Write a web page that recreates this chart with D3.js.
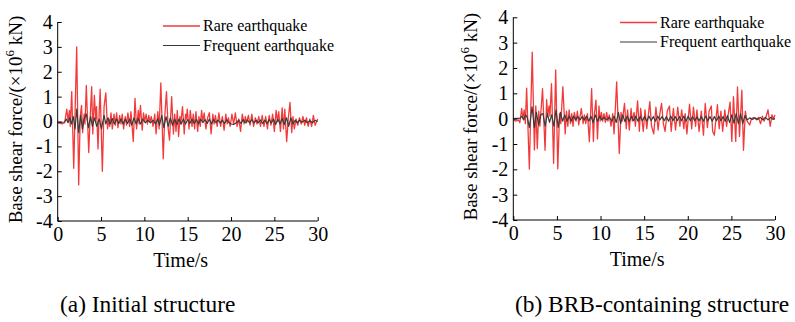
<!DOCTYPE html>
<html>
<head>
<meta charset="utf-8">
<script src="https://cdn.jsdelivr.net/npm/d3@7"></script>
<style>
  body { margin: 0; background: #fff; }
  svg, svg text { font-family: "Liberation Serif", "Times New Roman", "DejaVu Serif", serif; }
  svg text { fill: #000; }
  .axis path, .axis line { stroke: #000; stroke-width: 1; }
</style>
</head>
<body>
<div id="chart"></div>
<script>
// time (s) / base shear force (x10^6 kN) pairs
const rareInitial = [
  [0,-0.05],[0.5,-0.1],[0.8,-0.05],[1.05,0.5],[1.2,0],[1.35,0.45],[1.45,-0.2],[1.62,1.2],[1.85,-1.88],[2,0.3],
  [2.19,3.0],[2.42,-2.55],[2.6,0.2],[2.75,0.65],[2.88,-0.45],[3.05,0.3],[3.15,-0.1],[3.3,1.45],[3.58,-1.25],[3.75,0.2],
  [3.92,1.4],[4.05,-0.5],[4.23,1.05],[4.38,0.1],[4.48,0.6],[4.65,-1.1],[4.8,0.5],[4.9,1.3],[5.15,-2.0],[5.35,0.6],
  [5.55,1.15],[5.75,-0.3],[5.9,0.1],[6,-0.2],[6.15,0.35],[6.3,-0.3],[6.5,0.3],[6.65,-0.15],[6.8,0.35],[6.95,-0.25],
  [7.15,0.25],[7.3,-0.1],[7.45,0.3],[7.6,-0.3],[7.8,0.2],[7.95,-0.15],[8.1,0.35],[8.3,-0.2],[8.45,0.4],[8.72,-0.8],
  [8.92,0.93],[9.1,-0.3],[9.3,0.45],[9.4,-0.1],[9.55,0.65],[9.75,-0.35],[9.9,0.35],[10.05,0],[10.2,0.3],[10.35,-0.1],
  [10.5,0.25],[10.65,0],[10.8,0.2],[11,-0.2],[11.2,0.3],[11.35,-0.5],[11.55,0.4],[11.7,-0.3],[11.9,1.55],[12.18,-1.5],
  [12.35,0.2],[12.55,1.2],[12.75,-0.3],[12.9,-0.75],[13.15,1.0],[13.35,-0.5],[13.5,0.3],[13.65,-0.4],[13.8,0.45],[13.95,-0.6],
  [14.1,0.2],[14.2,-0.1],[14.4,0.6],[14.6,-0.5],[14.75,0.3],[14.85,0.1],[14.95,0.5],[15.15,-0.3],[15.3,0.45],[15.5,-0.2],
  [15.65,0.3],[15.8,-0.3],[15.95,0.4],[16.15,-0.4],[16.3,0.2],[16.45,-0.2],[16.6,0.45],[16.75,0],[16.9,0.35],[17.1,-0.3],
  [17.3,0.15],[17.5,0.35],[17.7,-0.5],[17.9,0.3],[18.05,-0.1],[18.2,0.25],[18.4,-0.2],[18.6,0.35],[18.8,-0.2],[19,0.2],
  [19.2,-0.35],[19.4,0.3],[19.55,-0.1],[19.7,0.15],[19.9,-0.2],[20.1,0.3],[20.3,-0.1],[20.5,0.35],[20.7,-0.2],[20.9,0.1],
  [21.1,-0.4],[21.3,0.3],[21.5,-0.1],[21.65,0.2],[21.8,-0.05],[22,0.25],[22.2,-0.15],[22.4,0.3],[22.6,-0.2],[22.8,0.15],
  [23,-0.1],[23.2,0.2],[23.4,-0.2],[23.6,0.25],[23.8,-0.2],[24,0.2],[24.2,-0.3],[24.4,0.25],[24.6,-0.15],[24.8,0.3],
  [25,-0.4],[25.2,0.45],[25.35,0],[25.5,0.4],[25.7,-0.4],[25.9,0.55],[26.05,-0.3],[26.2,0.5],[26.42,-0.81],[26.6,0.1],
  [26.8,0.77],[27,-0.45],[27.15,0.2],[27.3,-0.3],[27.5,0.1],[27.7,-0.15],[27.9,0.15],[28.1,-0.1],[28.3,0.2],[28.5,-0.15],
  [28.7,0.15],[28.9,-0.2],[29.1,0.1],[29.3,-0.2],[29.5,0.25],[29.7,-0.15],[30,0.1]
];
const frequentInitial = [
  [0,-0.05],[0.8,-0.02],[1,0.1],[1.2,-0.05],[1.4,0.15],[1.6,-0.1],[1.8,0.2],[2,-0.3],[2.2,0.5],[2.42,-0.45],
  [2.65,0.25],[2.85,-0.3],[3.05,0.1],[3.3,0.3],[3.55,-0.25],[3.8,0.2],[4,-0.2],[4.25,0.15],[4.5,-0.2],[4.8,0.1],
  [5.05,-0.3],[5.35,0.25],[5.55,-0.1],[5.8,0.15],[6.05,-0.1],[6.3,0.12],[6.55,-0.1],[6.8,0.1],[7.05,-0.08],[7.3,0.1],
  [7.55,-0.1],[7.8,0.1],[8.05,-0.08],[8.3,0.1],[8.55,-0.15],[8.8,0.15],[9.05,-0.1],[9.3,0.12],[9.55,-0.1],[9.8,0.1],
  [10.1,-0.05],[10.4,0.05],[10.7,-0.05],[11,0.05],[11.3,-0.1],[11.55,0.12],[11.75,-0.15],[12,0.25],[12.25,-0.25],[12.5,0.2],
  [12.75,-0.2],[13,0.15],[13.25,-0.15],[13.5,0.1],[13.75,-0.12],[14,0.1],[14.25,-0.1],[14.5,0.1],[14.75,-0.1],[15,0.08],
  [15.25,-0.08],[15.5,0.1],[15.75,-0.08],[16,0.08],[16.25,-0.1],[16.5,0.1],[16.75,-0.05],[17,0.08],[17.25,-0.08],[17.5,0.1],
  [17.75,-0.1],[18,0.08],[18.25,-0.05],[18.5,0.06],[18.75,-0.06],[19,0.05],[19.25,-0.08],[19.5,0.08],[19.75,-0.05],[20,-0.1],
  [20.3,-0.12],[20.6,-0.05],[20.9,0.05],[21.15,-0.08],[21.4,0.08],[21.65,-0.05],[21.9,0.06],[22.15,-0.06],[22.4,0.08],[22.65,-0.06],
  [22.9,0.05],[23.15,-0.05],[23.4,0.06],[23.65,-0.08],[23.9,0.06],[24.15,-0.08],[24.4,0.08],[24.65,-0.06],[24.9,0.1],[25.15,-0.12],
  [25.4,0.1],[25.65,-0.1],[25.9,0.12],[26.15,-0.12],[26.4,0.15],[26.65,-0.2],[26.9,0.15],[27.15,-0.1],[27.4,0.05],[27.65,-0.05],
  [27.9,0.05],[28.2,-0.03],[28.5,0.05],[28.8,-0.05],[29.1,0.03],[29.4,-0.05],[29.7,0.05],[30,0]
];
const rareBRB = [
  [0,-0.05],[0.3,-0.1],[0.6,-0.05],[0.75,-0.16],[0.96,0.4],[1.1,0],[1.25,0.35],[1.38,-0.2],[1.53,1.2],[1.84,-1.99],
  [2,0.3],[2.17,2.62],[2.42,-1.24],[2.58,0.5],[2.75,-1.18],[2.92,0.3],[3.05,-0.3],[3.35,1.18],[3.64,-1.25],[3.82,0.75],
  [3.95,0.1],[4.1,0.5],[4.2,0.1],[4.38,1.38],[4.62,-1.76],[4.86,1.92],[5.1,-1.98],[5.3,0.2],[5.45,-0.2],[5.68,1.26],
  [5.95,-0.6],[6.1,0.3],[6.25,-0.3],[6.4,0.35],[6.55,-0.2],[6.7,0.2],[6.85,-0.3],[7,0.25],[7.2,-0.1],[7.35,0.3],
  [7.5,-0.25],[7.65,0.1],[7.8,0.4],[8,-0.2],[8.15,0.15],[8.3,-0.2],[8.5,0.2],[8.72,-0.91],[8.98,1.18],[9.18,-0.9],
  [9.3,0.2],[9.48,0.73],[9.65,-0.8],[9.82,0.5],[9.95,-0.1],[10.1,0.25],[10.25,-0.1],[10.4,0.2],[10.55,-0.15],[10.7,0.25],
  [10.85,-0.1],[11,0.15],[11.2,-0.3],[11.4,0.2],[11.55,-0.6],[11.85,1.45],[12.15,-1.37],[12.35,0.25],[12.5,-0.1],[12.75,0.6],
  [12.95,-0.4],[13.1,0.35],[13.3,-0.45],[13.5,0.4],[13.65,-0.1],[13.85,0.25],[14,-0.3],[14.25,0.7],[14.45,-0.5],[14.6,0.4],
  [14.9,-0.5],[15.1,0.35],[15.3,-0.4],[15.65,0.67],[15.85,-0.3],[16.1,-0.6],[16.35,0.45],[16.6,-0.45],[16.8,0.2],[17,0.6],
  [17.2,-0.2],[17.4,-0.5],[17.65,0.3],[17.9,0.5],[18.1,-0.5],[18.35,0.4],[18.6,-0.45],[18.85,0.45],[19.1,-0.3],[19.3,0.35],
  [19.55,-0.4],[19.7,0.2],[19.9,-0.6],[20.2,0.57],[20.45,-0.4],[20.65,0.45],[20.9,-0.3],[21.05,0.35],[21.3,-0.5],[21.55,0.3],
  [21.8,-0.65],[22,0.6],[22.25,-0.35],[22.45,0.3],[22.7,0.5],[22.85,-0.5],[23.05,-0.65],[23.4,0.55],[23.6,-0.4],[23.8,0.3],
  [24,-0.5],[24.25,0.35],[24.45,-0.3],[24.65,0.2],[24.85,0.65],[25.05,-0.9],[25.24,0.87],[25.5,-0.9],[25.7,1.25],[25.93,-0.7],
  [26.2,1.12],[26.39,-1.25],[26.6,0.3],[26.8,-0.1],[27.1,-0.25],[27.3,0],[27.6,0.05],[27.9,-0.05],[28.1,0.05],[28.35,-0.2],
  [28.55,0.1],[28.75,-0.1],[29,0.1],[29.2,0.35],[29.45,-0.3],[29.65,0.15],[29.85,0],[30,0.15]
];
const frequentBRB = [
  [0,0],[0.8,0.02],[1,0.1],[1.2,-0.05],[1.4,0.15],[1.6,0.05],[1.85,-0.35],[2.15,0.47],[2.4,-0.35],[2.65,0.25],
  [2.9,-0.25],[3.15,0.15],[3.4,0.2],[3.65,-0.3],[3.9,0.2],[4.15,-0.15],[4.4,0.15],[4.65,-0.3],[4.9,0.35],[5.15,-0.35],
  [5.4,0.25],[5.65,-0.1],[5.9,0.15],[6.15,-0.1],[6.4,0.1],[6.65,-0.1],[6.9,0.1],[7.15,-0.05],[7.4,0.08],[7.65,-0.05],
  [7.9,0.08],[8.15,-0.05],[8.4,0.1],[8.65,-0.1],[8.9,0.1],[9.15,-0.15],[9.4,0.15],[9.65,-0.1],[9.9,0.1],[10.15,-0.05],
  [10.4,0.05],[10.7,-0.05],[11,0.05],[11.3,-0.1],[11.55,0.1],[11.8,-0.15],[12.05,0.25],[12.3,-0.2],[12.55,0.15],[12.8,-0.12],
  [13.05,0.1],[13.3,-0.1],[13.55,0.08],[13.8,-0.08],[14.05,0.1],[14.3,-0.1],[14.55,0.08],[14.8,-0.08],[15.05,0.08],[15.3,-0.1],
  [15.55,0.1],[15.8,-0.08],[16.05,0.08],[16.3,-0.1],[16.55,0.1],[16.8,-0.05],[17.05,0.08],[17.3,-0.08],[17.55,0.08],[17.8,-0.1],
  [18.05,0.1],[18.3,-0.08],[18.55,0.08],[18.8,-0.08],[19.05,0.08],[19.3,-0.08],[19.55,0.1],[19.8,-0.1],[20.05,0.1],[20.3,-0.08],
  [20.55,0.08],[20.8,-0.08],[21.05,0.06],[21.3,-0.08],[21.55,0.08],[21.8,-0.1],[22.05,0.1],[22.3,-0.08],[22.55,0.08],[22.8,-0.1],
  [23.05,0.08],[23.3,-0.08],[23.55,0.1],[23.8,-0.08],[24.05,0.08],[24.3,-0.1],[24.55,0.12],[24.8,-0.15],[25.05,0.15],[25.3,-0.18],
  [25.55,0.2],[25.8,-0.2],[26.05,0.2],[26.3,-0.2],[26.55,0.12],[26.8,-0.05],[27.1,0.03],[27.4,-0.03],[27.7,0.03],[28,-0.03],
  [28.3,0.05],[28.6,-0.05],[28.9,0.05],[29.2,-0.05],[29.5,0.05],[29.8,-0.03],[30,0]
];

const xTicks = [0, 5, 10, 15, 20, 25, 30];
const yTicks = [-4, -3, -2, -1, 0, 1, 2, 3, 4];
const seriesNames = ["Rare earthquake", "Frequent earthquake"];
const seriesColors = ["#f23a3a", "#3a3a3a"];
const captions = ["(a) Initial structure", "(b) BRB-containing structure"];

const FONT = '"Liberation Serif", "Times New Roman", "DejaVu Serif", serif';
const width = 795, height = 322;
const svg = d3.select("#chart").append("svg")
  .attr("width", width)
  .attr("height", height)
  .attr("font-family", FONT);

// panel geometry in page pixels
const panels = [
  {x0: 57.7, x1: 317.7, yTop: 22, yBot: 221, rare: rareInitial, freq: frequentInitial,
   legX: 163, legY: 26, labelX: 22, captionX: 60},
  {x0: 513.3, x1: 775, yTop: 17.3, yBot: 220, rare: rareBRB, freq: frequentBRB,
   legX: 620, legY: 22.5, labelX: 477, captionX: 515}
];

panels.forEach(function (p, i) {
  const x = d3.scaleLinear().domain([0, 30]).range([p.x0, p.x1]);
  const y = d3.scaleLinear().domain([-4, 4]).range([p.yBot, p.yTop]);
  const g = svg.append("g");

  const line = d3.line()
    .x(function (d) { return x(d[0]); })
    .y(function (d) { return y(d[1]); });

  g.append("path").datum(p.rare)
    .attr("fill", "none")
    .attr("stroke", seriesColors[0])
    .attr("stroke-width", 1.3)
    .attr("stroke-linejoin", "round")
    .attr("d", line);

  g.append("path").datum(p.freq)
    .attr("fill", "none")
    .attr("stroke", seriesColors[1])
    .attr("stroke-width", 1.2)
    .attr("stroke-linejoin", "round")
    .attr("d", line);

  // axes with inward ticks
  const xAxis = g.append("g")
    .attr("class", "axis")
    .attr("transform", "translate(0," + p.yBot + ")")
    .call(d3.axisBottom(x).tickValues(xTicks).tickSizeInner(-4).tickSizeOuter(0).tickPadding(6));
  xAxis.attr("font-family", FONT);
  xAxis.selectAll("text").attr("font-size", 20).attr("dy", "0.71em");

  const yAxis = g.append("g")
    .attr("class", "axis")
    .attr("transform", "translate(" + p.x0 + ",0)")
    .call(d3.axisLeft(y).tickValues(yTicks).tickSizeInner(-4).tickSizeOuter(0).tickPadding(5));
  yAxis.attr("font-family", FONT);
  yAxis.selectAll("text").attr("font-size", 20)
    .text(function (d) { return d < 0 ? "-" + Math.abs(d) : d; });

  xAxis.select(".domain").attr("d", "M" + p.x0 + ",0H" + p.x1);
  yAxis.select(".domain").attr("d", "M0," + p.yBot + "V" + p.yTop);

  // axis titles
  g.append("text")
    .attr("x", (p.x0 + p.x1) / 2 - 7)
    .attr("y", p.yBot + 46)
    .attr("text-anchor", "middle")
    .attr("font-size", 20)
    .text("Time/s");

  const yl = g.append("text")
    .attr("transform", "translate(" + p.labelX + "," + ((p.yTop + p.yBot) / 2 - 2) + ") rotate(-90)")
    .attr("text-anchor", "middle")
    .attr("font-size", 19);
  yl.append("tspan").text("Base shear force/(×10");
  yl.append("tspan").attr("font-size", 13).attr("dy", -8).text("6");
  yl.append("tspan").attr("dy", 8).text(" kN)");

  // legend
  seriesNames.forEach(function (name, k) {
    const ly = p.legY + k * 19.5;
    g.append("line")
      .attr("x1", p.legX).attr("x2", p.legX + 37)
      .attr("y1", ly).attr("y2", ly)
      .attr("stroke", seriesColors[k])
      .attr("stroke-width", k === 0 ? 1.4 : 1.2);
    g.append("text")
      .attr("x", p.legX + 40)
      .attr("y", ly + 5)
      .attr("font-size", 16)
      .text(name);
  });

  // caption
  svg.append("text")
    .attr("x", p.captionX)
    .attr("y", 312)
    .attr("font-size", 23.4)
    .text(captions[i]);
});
</script>
</body>
</html>
